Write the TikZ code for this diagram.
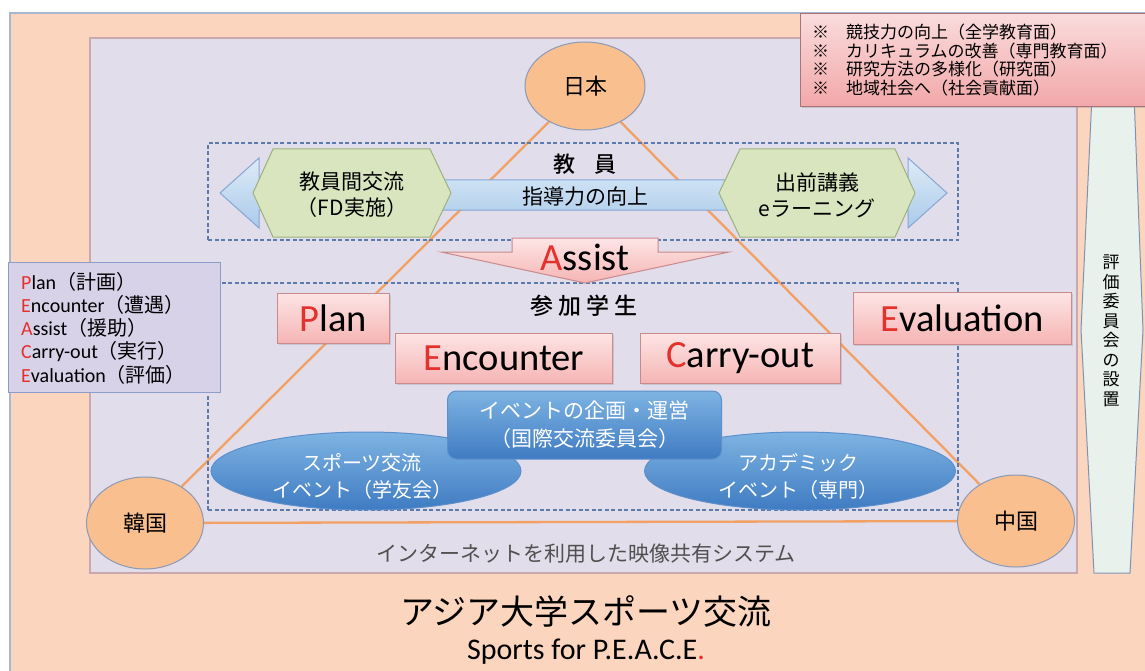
\documentclass[tikz,border=0pt]{standalone}
\usepackage{fontspec}
\setmainfont{Carlito}
\newfontfamily\jp{Noto Sans CJK JP}
\newfontfamily\jpbold{Noto Sans CJK JP Medium}
\usetikzlibrary{shapes.geometric,shadows,backgrounds}
\newcommand{\myfs}[2]{\fontsize{#1}{#2}\selectfont}
\definecolor{peach}{HTML}{FBD5BD}
\definecolor{outerline}{HTML}{A9B6CF}
\definecolor{lav}{HTML}{E1DDEA}
\definecolor{lavborder}{HTML}{C9A9AE}
\definecolor{notetop}{HTML}{FADCDC}
\definecolor{notebot}{HTML}{F2A7A9}
\definecolor{noteborder}{HTML}{A87479}
\definecolor{pinktop}{HTML}{FDE5E5}
\definecolor{pinkbot}{HTML}{F6B4B4}
\definecolor{pinkborder}{HTML}{C98A8C}
\definecolor{countryfill}{HTML}{F9BF8F}
\definecolor{countryborder}{HTML}{8B9AB5}
\definecolor{triorange}{HTML}{F2A064}
\definecolor{dashblue}{HTML}{5B7BAE}
\definecolor{arrtop}{HTML}{DDEBF7}
\definecolor{arrbot}{HTML}{AACAEA}
\definecolor{arrborder}{HTML}{86A7D4}
\definecolor{hexfill}{HTML}{D9E5BF}
\definecolor{hexborder}{HTML}{9CB27E}
\definecolor{bluetop}{HTML}{7EB4E3}
\definecolor{bluebot}{HTML}{3F7BC2}
\definecolor{blueborder}{HTML}{5D8FCB}
\definecolor{legfill}{HTML}{D8D2E9}
\definecolor{legborder}{HTML}{8C9DCB}
\definecolor{vfill}{HTML}{E8F1EC}
\definecolor{vborder}{HTML}{7E93B3}
\definecolor{peared}{HTML}{E3312D}
\definecolor{nettext}{HTML}{505050}
\pgfdeclarelayer{lines}
\pgfsetlayers{background,lines,main}
\begin{document}
\begin{tikzpicture}[x=1pt,y=-1pt,
  country/.style={ellipse, fill=countryfill, draw=countryborder, line width=1pt,
    minimum width=117, minimum height=92, inner sep=0, font=\jp\myfs{22}{26}},
  triline/.style={draw=triorange, line width=2.3pt},
  dashbox/.style={rectangle, draw=dashblue, line width=1.3pt, dash pattern=on 4pt off 2.5pt, inner sep=0},
  pinkbox/.style={rectangle, top color=pinktop, bottom color=pinkbot, draw=pinkborder,
    line width=0.9pt, inner sep=0, font=\myfs{38.5}{40},
    drop shadow={opacity=0.25, shadow xshift=1.5pt, shadow yshift=-1.5pt}},
  hexshape/.style={fill=hexfill, draw=hexborder, line width=1pt},
  hextext/.style={font=\jp\myfs{21}{26}, align=center, inner sep=0},
  bluebox/.style={top color=bluetop, bottom color=bluebot, draw=blueborder, line width=1pt,
    text=white, font=\jp\myfs{21}{28}, align=center, inner sep=0},
  bluetext/.style={font=\jp\myfs{20}{27}, text=white, align=center, inner sep=0},
  plain/.style={inner sep=0}
]
\useasboundingbox (0,0) rectangle (1145,671);
\begin{pgfonlayer}{background}
  \fill[white] (0,0) rectangle (1145,671);
  \fill[peach] (10,13) rectangle (1145,671);
  \draw[outerline, line width=1.5pt] (10,671) -- (10,13) -- (1145,13);
  \draw[fill=lav, draw=lavborder, line width=1.4pt] (90,38) rectangle (1077,573);
\end{pgfonlayer}

% evaluation committee (vertical shape)
\draw[fill=vfill, draw=vborder, line width=1pt]
  (1092,95) -- (1134,95) -- (1143,330) -- (1130,573) -- (1094,573) -- (1081,330) -- cycle;
\node[font=\jp\myfs{17}{19.5}, align=center, inner sep=0] (hyoka) at (1111,331)
  {評\\価\\委\\員\\会\\の\\設\\置};

% notes box top right
\node[rectangle, top color=notetop, bottom color=notebot, draw=noteborder, line width=1pt,
  minimum width=345, minimum height=93, anchor=north west, inner sep=0,
  drop shadow={opacity=0.3, shadow xshift=1.5pt, shadow yshift=-2pt}] (notes) at (800,13) {};
\node[anchor=west, align=left, font=\jp\myfs{17}{18.4}, inner sep=0] (notestext) at (812,60)
  {※\hspace{1em}競技力の向上（全学教育面）\\
   ※\hspace{1em}カリキュラムの改善（専門教育面）\\
   ※\hspace{1em}研究方法の多様化（研究面）\\
   ※\hspace{1em}地域社会へ（社会貢献面）};

% dashed group boxes
\node[dashbox, minimum width=750, minimum height=97] (teachers) at (583,191.5) {};
\node[dashbox, minimum width=750, minimum height=227] (students) at (583,396.5) {};

% double arrow
\draw[top color=arrtop, bottom color=arrbot, draw=arrborder, line width=1pt]
  (220,193) -- (259,158) -- (259,180) -- (908,180) -- (908,158) -- (947,193)
  -- (908,228) -- (908,210) -- (259,210) -- (259,228) -- cycle;
\node[font=\jp\myfs{21}{23}, plain] (shido) at (585,197) {指導力の向上};
\node[font=\jpbold\myfs{22}{24}, plain] (kyoin) at (585,164) {教\hspace{0.9em}員};

% hexagons
\draw[hexshape] (253,193) -- (273,149) -- (430,149) -- (451,193) -- (430,237) -- (273,237) -- cycle;
\node[hextext] (fd) at (352,195) {教員間交流\\（FD実施）};
\draw[hexshape] (719,193) -- (740,149) -- (895,149) -- (915,193) -- (895,237) -- (740,237) -- cycle;
\node[hextext] (demae) at (817,195) {出前講義\\eラーニング};

% assist arrow
\draw[top color=pinktop, bottom color=pinkbot, draw=pinkborder, line width=1pt]
  (512,238) -- (658,238) -- (658,252) -- (729,252) -- (585,283) -- (441,252) -- (512,252) -- cycle;
\node[font=\myfs{38.5}{40}, plain] (assist) at (585,257) {\textcolor{peared}{A}ssist};

% students
\node[font=\jpbold\myfs{23}{25}, plain] (sanka) at (584,306) {参\hspace{0.22em}加\hspace{0.22em}学\hspace{0.22em}生};
\node[pinkbox, minimum width=112, minimum height=50] (plan) at (333,318) {\textcolor{peared}{P}lan};
\node[pinkbox, minimum width=217, minimum height=50] (encounter) at (504,358) {\textcolor{peared}{E}ncounter};
\node[pinkbox, minimum width=200, minimum height=50] (carry) at (740,358) {\textcolor{peared}{C}arry-out};
\node[pinkbox, minimum width=218, minimum height=52] (evaluation) at (962,318) {\textcolor{peared}{E}valuation};

% blue event shapes
\node[bluebox, ellipse, minimum width=310, minimum height=78] (sports) at (366,471) {};
\node[bluebox, ellipse, minimum width=311, minimum height=78] (academic) at (800,471) {};
\node[bluebox, rectangle, rounded corners=9pt, minimum width=274, minimum height=68] (plan2) at (584.5,425)
  {イベントの企画・運営\\（国際交流委員会）};
\node[bluetext] (sportstext) at (362,476) {スポーツ交流\\イベント（学友会）};
\node[bluetext] (academictext) at (798,476) {アカデミック\\イベント（専門）};

% legend
\node[rectangle, fill=legfill, draw=legborder, line width=1pt, minimum width=212, minimum height=130,
  inner sep=0, anchor=north west] (legend) at (8,262) {};
\node[anchor=west, align=left, font=\myfs{20}{23.3}, inner sep=0] (legendtext) at (21,328)
  {\textcolor{peared}{P}lan{\jp（計画）}\\
   \textcolor{peared}{E}ncounter{\jp（遭遇）}\\
   \textcolor{peared}{A}ssist{\jp（援助）}\\
   \textcolor{peared}{C}arry-out{\jp（実行）}\\
   \textcolor{peared}{E}valuation{\jp（評価）}};

% bottom texts
\node[font=\jp\myfs{21}{23}, text=nettext, plain] (net) at (586,554) {インターネットを利用した映像共有システム};
\node[font=\jp\myfs{34}{36}, plain] (title) at (586,611) {アジア大学スポーツ交流};
\node[font=\myfs{30}{32}, plain] (subtitle) at (586,652) {Sports for P.E.A.C.E\textcolor{peared}{.}};

% countries
\node[country, minimum width=120, minimum height=88] (jp) at (585,86) {日本};
\node[country] (kr) at (145,523) {韓国};
\node[country] (cn) at (1016,521) {中国};

\begin{pgfonlayer}{lines}
  \draw[triline] (jp) -- (kr);
  \draw[triline] (jp) -- (cn);
  \draw[triline] (kr) -- (cn);
\end{pgfonlayer}
\end{tikzpicture}
\end{document}
